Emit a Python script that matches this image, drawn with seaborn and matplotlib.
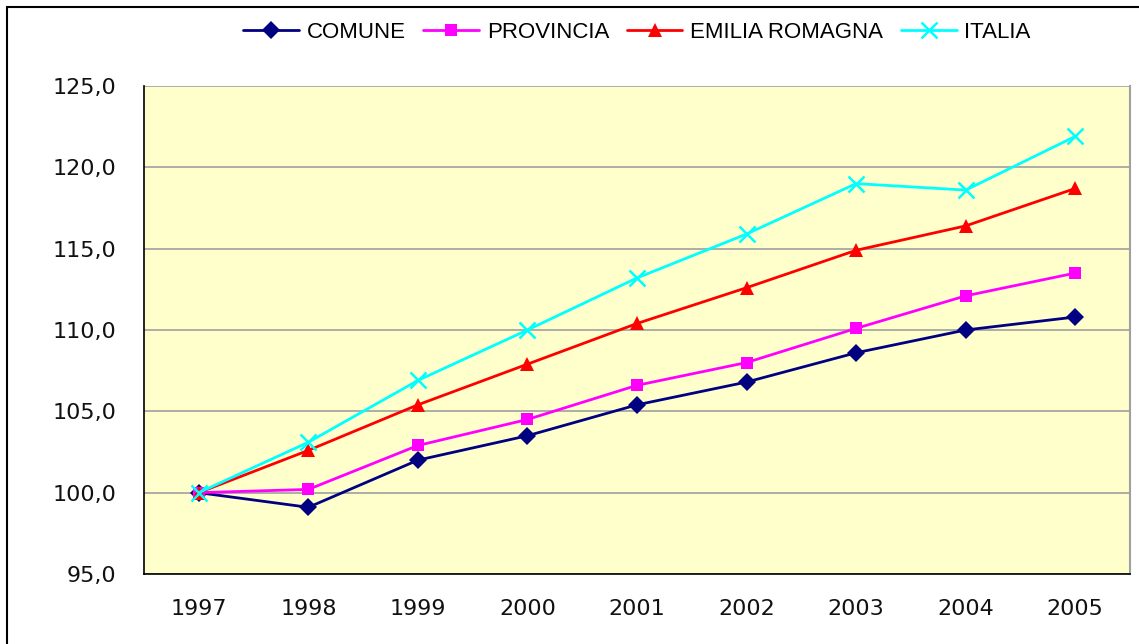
import matplotlib
matplotlib.use("Agg")
import matplotlib.pyplot as plt
import seaborn as sns
import pandas as pd
import numpy as np

years = ["1997", "1998", "1999", "2000", "2001", "2002", "2003", "2004", "2005"]
comune = [100.0, 99.1, 102.0, 103.5, 105.4, 106.8, 108.6, 110.0, 110.8]
provincia = [100.0, 100.2, 102.9, 104.5, 106.6, 108.0, 110.1, 112.1, 113.5]
emilia = [100.0, 102.6, 105.4, 107.9, 110.4, 112.6, 114.9, 116.4, 118.7]
italia = [100.0, 103.1, 106.9, 110.0, 113.2, 115.9, 119.0, 118.6, 121.9]
series_names = ["COMUNE", "PROVINCIA", "EMILIA ROMAGNA", "ITALIA"]
yticks = [95, 100, 105, 110, 115, 120, 125]

sns.set_style("white")
plt.rcParams['font.family'] = ['DejaVu Sans']

fig = plt.figure(figsize=(11.39, 6.44), dpi=100)
ax = fig.add_axes([144/1139, 1 - 574/644, (1130-144)/1139, (574-86)/644])
ax.set_facecolor("#FFFFCC")

styles = [
    (comune, "#000080", "D", 9),
    (provincia, "#FF00FF", "s", 9),
    (emilia, "#FF0000", "^", 10),
    (italia, "#00FFFF", "x", 11),
]
x = np.arange(len(years))
for name, (vals, col, mk, ms) in zip(series_names, styles):
    df = pd.DataFrame({"x": x, "y": vals})
    kw = dict(markeredgewidth=1.8) if mk == "x" else dict(markeredgewidth=0)
    sns.lineplot(data=df, x="x", y="y", ax=ax, color=col, marker=mk,
                 markersize=ms, linewidth=2, label=name,
                 markeredgecolor=col, markerfacecolor=col, **kw)

ax.set_xlim(-0.5, len(years) - 0.5)
ax.set_ylim(95, 125)
ax.set_yticks(yticks)
ax.set_yticklabels([f"{v:.1f}".replace(".", ",") for v in yticks], fontsize=16, color="#111111")
ax.set_xticks(x)
ax.set_xticklabels(years, fontsize=16, color="#111111")
ax.set_xticks(np.arange(-0.5, len(years), 1), minor=True)
ax.tick_params(axis="x", which="major", length=0, pad=18)
ax.tick_params(axis="x", which="minor", length=6, width=1, color="black", direction="out")
ax.tick_params(axis="y", which="major", length=6, width=1, color="black", direction="out", pad=14)
ax.yaxis.grid(True, color="#A0A0A0", linewidth=1.2)
ax.set_axisbelow(True)
ax.set_xlabel("")
ax.set_ylabel("")
for s in ["left", "bottom"]:
    ax.spines[s].set_color("black")
    ax.spines[s].set_linewidth(1.2)
ax.spines["right"].set_color("#A0A0A0")
ax.spines["right"].set_linewidth(1.5)
ax.spines["top"].set_visible(False)

leg = ax.legend(loc="center", bbox_to_anchor=(0.5, 1.0 + 54/488), ncol=4,
                frameon=False, prop={"family": ["Liberation Sans", "DejaVu Sans"], "size": 16},
                handlelength=2.5, columnspacing=0.8,
                handletextpad=0.35, borderaxespad=0, borderpad=0)
for t in leg.get_texts():
    t.set_color("black")

# outer frame (top and left edges visible)
fig.patches.append(plt.Rectangle((7/1139, -0.1), 1.2, 1.1 - 7/644, transform=fig.transFigure,
                                 fill=False, edgecolor="black", linewidth=1.5))

fig.savefig("out.png", dpi=100)
